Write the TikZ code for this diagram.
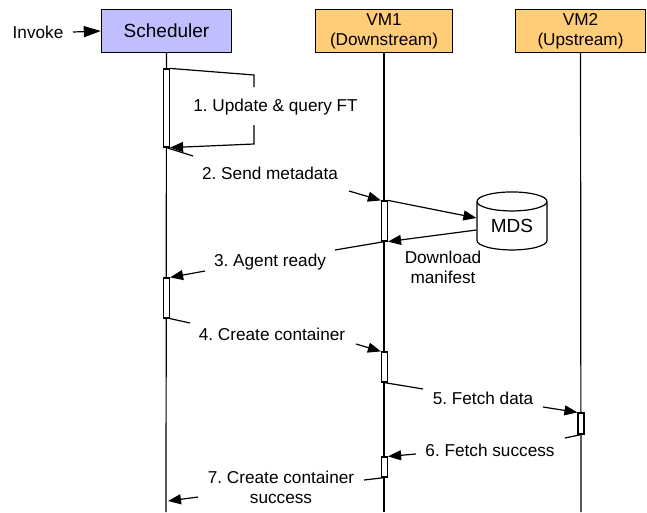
\documentclass[tikz,border=0pt]{standalone}
\usepackage{fontspec}
\setmainfont{Liberation Sans}
\frenchspacing
\usetikzlibrary{shapes.geometric,positioning,calc,arrows.meta}
\definecolor{schedblue}{HTML}{BFBFFF}
\definecolor{vmorange}{HTML}{FFCC77}
\tikzset{
    hdrbox/.style={draw, line width=1.4pt, minimum width=130pt, minimum height=43pt, inner sep=0pt, align=center},
    actbar/.style={draw, line width=1.2pt, fill=white, minimum width=6pt, inner sep=0pt},
    msg/.style={line width=1.2pt},
    msgarrow/.style={line width=1.2pt, -{Triangle[length=13pt,width=10pt]}},
    lbl/.style={inner sep=0pt, align=center}
}

\begin{document}
\begin{tikzpicture}[x=1pt, y=-1pt, every node/.style={font=\fontsize{17.2}{20}\selectfont}]
    \useasboundingbox (0,0) rectangle (647,512);

    % Header boxes
    \node[hdrbox, fill=schedblue, font=\fontsize{19}{20}\selectfont] (sched) at (166.5,31) {Scheduler};
    \node[hdrbox, fill=vmorange, minimum width=137pt] (vm1) at (384,31) {VM1\\(Downstream)};
    \node[hdrbox, fill=vmorange] (vm2) at (580.5,31) {VM2\\(Upstream)};

    % Lifelines
    \coordinate (schedend) at (166,512);
    \coordinate (vm1end) at (384,512);
    \coordinate (vm2end) at (581,512);
    \draw[msg] (sched.south) -- (schedend);
    \draw[msg] (vm1.south) -- (vm1end);
    \draw[msg] (vm2.south) -- (vm2end);

    % Activation bars
    \node[actbar, minimum height=78pt] (act1) at (166.5,108) {};
    \node[actbar, minimum height=40pt] (act2) at (384.5,221) {};
    \node[actbar, minimum height=40pt] (act3) at (166.5,298) {};
    \node[actbar, minimum height=30pt] (act4) at (384.5,367) {};
    \node[actbar, minimum height=21pt] (act5) at (581,423.5) {};
    \node[actbar, minimum height=20pt] (act6) at (384.5,467) {};

    % Metadata service
    \node[cylinder, draw, line width=1.2pt, fill=white, shape border rotate=90, aspect=0.45, minimum width=70pt, minimum height=58pt, inner sep=0pt, font=\fontsize{19}{20}\selectfont] (mds) at (512,226) {MDS};

    % Labels
    \node[lbl] (invoke) at (38,32) {Invoke};
    \node[lbl] (lab1) at (275.5,107) {1. Update \& query FT};
    \node[lbl] (lab2) at (270,173) {2. Send metadata};
    \node[lbl] (lab3) at (270,262) {3. Agent ready};
    \node[lbl] (lab4) at (272,334) {4. Create container};
    \node[lbl] (lab5) at (483,398) {5. Fetch data};
    \node[lbl] (lab6) at (490,450) {6. Fetch success};
    \node[lbl] (lab7) at (281,487) {7. Create container\\success};
    \node[lbl] (labdl) at (443,267) {Download\\manifest};

    % Free ends of the broken arrows
    \coordinate (m1a) at (254,87);
    \coordinate (m1b) at (254,125);
    \coordinate (m2a) at (193,156);
    \coordinate (m2b) at (349,191);
    \coordinate (m3a) at (335,250);
    \coordinate (m3b) at (205,271);
    \coordinate (m4a) at (190,323);
    \coordinate (m4b) at (356,344);
    \coordinate (m5a) at (423,389);
    \coordinate (m5b) at (543,407);
    \coordinate (m6a) at (565,438);
    \coordinate (m6b) at (416,454);
    \coordinate (m7a) at (364,480);
    \coordinate (m7b) at (198,497);
    \coordinate (inv) at (73,32);

    % Invoke
    \draw[line width=1.2pt, -{Triangle[length=17pt,width=11pt]}] (inv) -- (sched.west);

    % Step 1
    \draw[msg] (act1.north east) -- (254,75) -- (m1a);
    \draw[msgarrow] (m1b) -- (254,144) -- (act1.south east);

    % Step 2
    \draw[msg] (act1.south) -- (m2a);
    \draw[msgarrow] (m2b) -- (act2.north west);

    % MDS manifest download
    \draw[msgarrow] (act2.north east) -- ($(mds.west)+(0,-8)$);
    \draw[msgarrow] ($(mds.west)+(0,4)$) -- (act2.south east);

    % Step 3
    \draw[msg] (act2.south) -- (m3a);
    \draw[msgarrow] (m3b) -- (act3.north east);

    % Step 4
    \draw[msg] (act3.south east) -- (m4a);
    \draw[msgarrow] (m4b) -- (act4.north west);

    % Step 5
    \draw[msg] (act4.south) -- (m5a);
    \draw[msgarrow] (m5b) -- (act5.north west);

    % Step 6
    \draw[msg] (act5.south) -- (m6a);
    \draw[msgarrow] (m6b) -- (act6.north east);

    % Step 7
    \draw[msg] (act6.south) -- (m7a);
    \coordinate (m7c) at (168,501);
    \draw[msgarrow] (m7b) -- (m7c);
\end{tikzpicture}
\end{document}
